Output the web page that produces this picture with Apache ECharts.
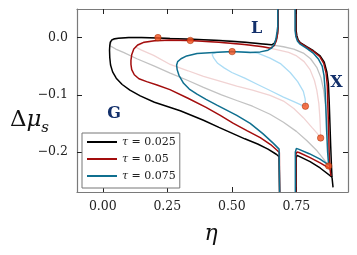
<!DOCTYPE html>
<html><head><meta charset="utf-8">
<script src="https://cdn.jsdelivr.net/npm/echarts@6/dist/echarts.min.js"></script>
<style>html,body{margin:0;padding:0;background:#fff}#c{width:357px;height:255px}</style>
</head><body><div id="c"></div>
<script>
// ---- tick labels ----
const xTicks = [0, 0.25, 0.5, 0.75];
const yTicks = [0, -0.1, -0.2];
const tauNames = ['τ = 0.025', 'τ = 0.05', 'τ = 0.075'];

// ---- tau = 0.025 (black) binodal ----
const blackSpikeL = [[0.679,0.05],[0.679,0.02],[0.677,0.008],[0.673,-0.002],[0.666,-0.009],[0.655,-0.0125]];
const blackUpper = [[0.62,-0.011],[0.55,-0.008],[0.45,-0.005],[0.35,-0.003],[0.26,-0.0015],[0.2136,-0.0005],[0.15,0],[0.1,0],[0.06,-0.001],[0.045,-0.002],[0.035,-0.004],[0.029,-0.008],[0.027,-0.014]];
const blackLower = [[0.026,-0.022],[0.027,-0.035],[0.03,-0.048],[0.038,-0.06],[0.052,-0.071],[0.075,-0.082],[0.105,-0.092],[0.145,-0.102],[0.2,-0.113],[0.3,-0.128],[0.39,-0.1446],[0.45,-0.157],[0.5,-0.167],[0.55,-0.177],[0.6,-0.186],[0.64,-0.195],[0.672,-0.204],[0.683,-0.208],[0.685,-0.27]];
const blackRight = [[0.749,0.05],[0.749,0.012],[0.752,0.003],[0.757,-0.004],[0.765,-0.009],[0.79,-0.016],[0.816,-0.023],[0.842,-0.032],[0.858,-0.043],[0.868,-0.06],[0.874,-0.08],[0.877,-0.11],[0.88,-0.15],[0.883,-0.19],[0.886,-0.225],[0.888,-0.244],[0.892,-0.262]];
const blackLowerRight = [[0.749,-0.27],[0.749,-0.21],[0.753,-0.206],[0.76,-0.207],[0.803,-0.217],[0.842,-0.228],[0.888,-0.244]];

// ---- tau = 0.05 (red) binodal ----
const redSpikeL = [[0.679,0.05],[0.679,0.02],[0.677,0.006],[0.672,-0.006],[0.664,-0.014],[0.65,-0.0185]];
const redUpper = [[0.62,-0.016],[0.55,-0.012],[0.45,-0.008],[0.339,-0.005],[0.26,-0.004],[0.2,-0.0055],[0.16,-0.008],[0.135,-0.013],[0.12,-0.02],[0.112,-0.03],[0.109,-0.04]];
const redLower = [[0.109,-0.047],[0.112,-0.056],[0.122,-0.065],[0.14,-0.072],[0.17,-0.077],[0.21,-0.083],[0.26,-0.091],[0.33,-0.106],[0.4,-0.122],[0.455,-0.136],[0.506,-0.15],[0.56,-0.163],[0.61,-0.175],[0.65,-0.187],[0.675,-0.197],[0.684,-0.201],[0.685,-0.27]];
const redRight = [[0.747,0.05],[0.747,0.012],[0.75,0.002],[0.756,-0.005],[0.765,-0.0095],[0.79,-0.0165],[0.816,-0.024],[0.84,-0.033],[0.856,-0.045],[0.865,-0.062],[0.87,-0.085],[0.872,-0.12],[0.875,-0.16],[0.877,-0.2],[0.88,-0.229],[0.884,-0.242]];
const redLowerRight = [[0.748,-0.27],[0.748,-0.205],[0.752,-0.2],[0.76,-0.201],[0.803,-0.21],[0.842,-0.219],[0.88,-0.229]];

// ---- tau = 0.075 (blue) binodal ----
const blueSpikeL = [[0.678,0.05],[0.678,0.02],[0.675,0.01],[0.671,-0.002],[0.665,-0.011],[0.655,-0.018],[0.64,-0.022],[0.61,-0.025]];
const blueUpper = [[0.571,-0.026],[0.501,-0.0245],[0.429,-0.026],[0.365,-0.028],[0.325,-0.032],[0.303,-0.037],[0.29,-0.042],[0.286,-0.048]];
const blueLower = [[0.288,-0.056],[0.295,-0.066],[0.313,-0.08],[0.335,-0.09],[0.365,-0.099],[0.4,-0.108],[0.442,-0.118],[0.519,-0.136],[0.571,-0.15],[0.62,-0.168],[0.661,-0.185],[0.683,-0.195],[0.685,-0.27]];
const blueRight = [[0.745,0.05],[0.745,0.012],[0.748,0.002],[0.754,-0.006],[0.763,-0.011],[0.79,-0.019],[0.815,-0.027],[0.836,-0.038],[0.85,-0.05],[0.857,-0.066],[0.861,-0.09],[0.864,-0.12],[0.867,-0.16],[0.871,-0.2],[0.875,-0.2225]];
const blueLowerRight = [[0.746,-0.27],[0.746,-0.2],[0.75,-0.194],[0.758,-0.195],[0.8,-0.203],[0.84,-0.212],[0.875,-0.2225]];

// ---- spinodals ----
const grayUpper = [[0.027,-0.014],[0.035,-0.005],[0.06,-0.0015],[0.1,-0.0005],[0.2136,0],[0.35,-0.003],[0.5,-0.0055],[0.6,-0.0095],[0.66,-0.013],[0.7,-0.016],[0.74,-0.02],[0.777,-0.027],[0.805,-0.037],[0.829,-0.052],[0.845,-0.07],[0.855,-0.09],[0.862,-0.115],[0.868,-0.145],[0.872,-0.18],[0.874,-0.205],[0.875,-0.2245]];
const grayLower = [[0.027,-0.014],[0.05,-0.02],[0.08,-0.026],[0.132,-0.037],[0.2,-0.05],[0.261,-0.062],[0.33,-0.075],[0.39,-0.087],[0.46,-0.1],[0.519,-0.11],[0.58,-0.12],[0.648,-0.134],[0.7,-0.148],[0.75,-0.164],[0.79,-0.18],[0.83,-0.198],[0.855,-0.212],[0.875,-0.2245]];
const pinkUpper = [[0.125,-0.016],[0.16,-0.009],[0.2,-0.006],[0.339,-0.0055],[0.45,-0.0085],[0.55,-0.0125],[0.62,-0.016],[0.674,-0.021],[0.72,-0.026],[0.751,-0.032],[0.78,-0.042],[0.803,-0.056],[0.82,-0.075],[0.829,-0.092],[0.837,-0.115],[0.841,-0.14],[0.843,-0.16],[0.844,-0.1755]];
const pinkLower = [[0.125,-0.016],[0.15,-0.022],[0.197,-0.031],[0.261,-0.047],[0.33,-0.058],[0.39,-0.068],[0.46,-0.077],[0.519,-0.085],[0.58,-0.092],[0.648,-0.101],[0.7,-0.111],[0.74,-0.124],[0.777,-0.14],[0.81,-0.157],[0.83,-0.167],[0.844,-0.1755]];
const lightBlueUpper = [[0.423,-0.029],[0.44,-0.026],[0.5,-0.0245],[0.56,-0.025],[0.6,-0.027],[0.648,-0.036],[0.69,-0.046],[0.726,-0.061],[0.755,-0.077],[0.777,-0.094],[0.784,-0.107],[0.785,-0.12]];
const lightBlueLower = [[0.423,-0.029],[0.43,-0.036],[0.445,-0.045],[0.47,-0.053],[0.5,-0.061],[0.55,-0.071],[0.6,-0.082],[0.65,-0.093],[0.7,-0.104],[0.74,-0.112],[0.77,-0.118],[0.785,-0.12]];

// ---- special points ----
const criticalPoints = [[0.2136,0.0],[0.339,-0.005],[0.501,-0.0245],[0.785,-0.12],[0.844,-0.1755],[0.875,-0.2245]];

const C = {black:'#000000', red:'#a30d0d', blue:'#0f6f8f', gray:'#c2c2c2', pink:'#f1d3d3', lblue:'#abdcf5', dot:'#f4511e', navy:'#13306b'};
const SERIF = "'DejaVu Serif', 'Liberation Serif', serif";

function ln(data, color, width, name, z) {
  return {type:'line', name: name, data: data, showSymbol:false, symbol:'none', smooth:false,
    lineStyle:{color:color, width:width}, itemStyle:{color:color}, z:z, silent:true, animation:false, clip:true};
}

const series = [
  ln(grayUpper, C.gray, 1.3, 'sg1', 1), ln(grayLower, C.gray, 1.3, 'sg2', 1),
  ln(pinkUpper, C.pink, 1.3, 'sp1', 1), ln(pinkLower, C.pink, 1.3, 'sp2', 1),
  ln(lightBlueUpper, C.lblue, 1.3, 'sb1', 1), ln(lightBlueLower, C.lblue, 1.3, 'sb2', 1),
  ln(blackSpikeL.concat(blackUpper, blackLower), C.black, 1.5, tauNames[0], 2),
  ln(blackRight, C.black, 1.5, tauNames[0], 2), ln(blackLowerRight, C.black, 1.5, tauNames[0], 2),
  ln(redSpikeL.concat(redUpper, redLower), C.red, 1.5, tauNames[1], 3),
  ln(redRight, C.red, 1.5, tauNames[1], 3), ln(redLowerRight, C.red, 1.5, tauNames[1], 3),
  ln(blueSpikeL.concat(blueUpper, blueLower), C.blue, 1.5, tauNames[2], 4),
  ln(blueRight, C.blue, 1.5, tauNames[2], 4), ln(blueLowerRight, C.blue, 1.5, tauNames[2], 4),
  {type:'scatter', data: criticalPoints, symbolSize:6.5, z:10, silent:true, animation:false,
    itemStyle:{color:C.dot, borderColor:'#9a2a00', borderWidth:0.6}}
];

const tickStyle = {show:true, inside:true, length:5, lineStyle:{color:'#222', width:1}};
const frameLine = {show:true, onZero:false, lineStyle:{color:'#7a7a7a', width:1.2}};
const xBase = {type:'value', min:-0.1, max:0.95, splitLine:{show:false}, axisLine:frameLine};
const yBase = {type:'value', min:-0.27, max:0.05, splitLine:{show:false}, axisLine:frameLine};

const chart = echarts.init(document.getElementById('c'), null, {renderer:'canvas'});
chart.setOption({
  animation:false,
  backgroundColor:'#fff',
  grid:{left:77, right:9, top:9, bottom:63, containLabel:false},
  xAxis:[
    Object.assign({}, xBase, {position:'bottom',
      axisTick:Object.assign({customValues:xTicks}, tickStyle),
      axisLabel:{customValues:xTicks, margin:8, color:'#222', fontFamily:SERIF, fontSize:12.5,
        formatter: v => v.toFixed(2)}}),
    Object.assign({}, xBase, {position:'top',
      axisTick:Object.assign({customValues:xTicks}, tickStyle), axisLabel:{show:false}})
  ],
  yAxis:[
    Object.assign({}, yBase, {position:'left',
      axisTick:Object.assign({customValues:yTicks}, tickStyle),
      axisLabel:{customValues:yTicks, margin:9, color:'#222', fontFamily:SERIF, fontSize:12.5,
        formatter: v => (Math.abs(v) < 1e-9 ? '0.0' : (v < 0 ? '\u2212' : '') + Math.abs(v).toFixed(1))}}),
    Object.assign({}, yBase, {position:'right',
      axisTick:Object.assign({customValues:yTicks}, tickStyle), axisLabel:{show:false}})
  ],
  legend:{
    data: tauNames.map(n => ({name:n, icon:'rect'})),
    orient:'vertical', left:82, top:133, itemWidth:30, itemHeight:2, itemGap:5,
    padding:[3,4,6,5], borderColor:'#777', borderWidth:1, backgroundColor:'#fff', borderRadius:0,
    selectedMode:false,
    formatter: n => '{i|τ}{n| = ' + n.split('= ')[1] + '}',
    textStyle:{fontFamily:SERIF, fontSize:11, lineHeight:12, color:'#222',
      rich:{i:{fontFamily:SERIF, fontStyle:'italic', fontSize:11, color:'#222'}, n:{fontFamily:SERIF, fontSize:11, color:'#222'}}}
  },
  graphic:[
    {type:'text', x:114, y:114, style:{text:'G', font:'bold 16px '+SERIF, fill:C.navy, align:'center', verticalAlign:'middle'}},
    {type:'text', x:256.5, y:28.5, style:{text:'L', font:'bold 16px '+SERIF, fill:C.navy, align:'center', verticalAlign:'middle'}},
    {type:'text', x:336.5, y:82.5, style:{text:'X', font:'bold 16px '+SERIF, fill:C.navy, align:'center', verticalAlign:'middle'}},
    {type:'text', x:10, y:120, style:{text:'{d|Δ}{m|μ}', verticalAlign:'middle', rich:{
      d:{font:'23px '+SERIF, fill:'#111'}, m:{font:'italic 23px '+SERIF, fill:'#111'}}}},
    {type:'text', x:45, y:128, style:{text:'s', font:'italic 15px '+SERIF, fill:'#111', align:'center', verticalAlign:'middle'}},
    {type:'text', x:211, y:234, style:{text:'η', font:'italic 22px '+SERIF, fill:'#111', align:'center', verticalAlign:'middle'}}
  ],
  series: series
});
</script></body></html>
